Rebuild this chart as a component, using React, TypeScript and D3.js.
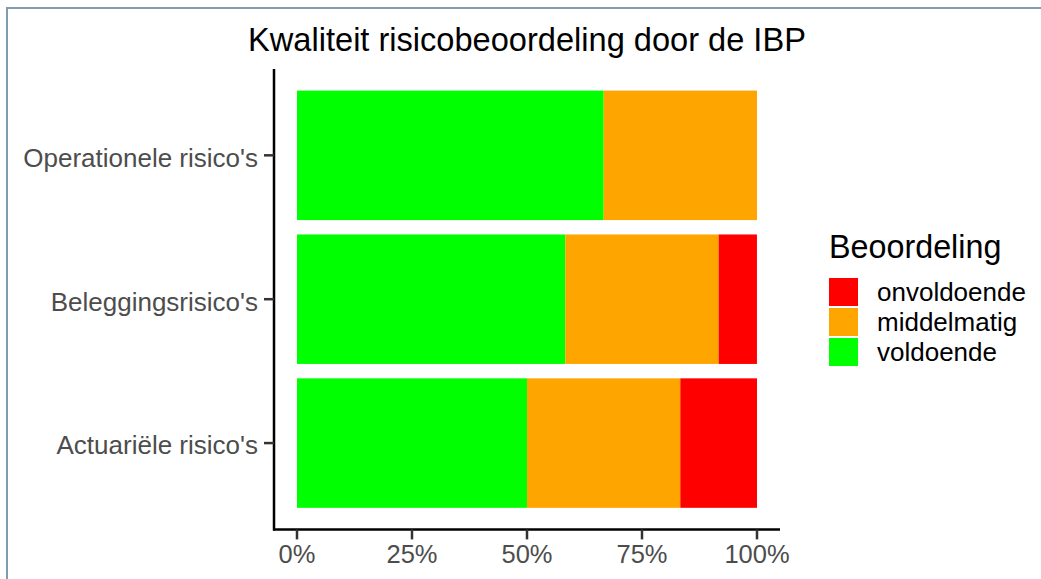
import React from "react";
import * as d3 from "d3";

const categories = ["Operationele risico's", "Beleggingsrisico's", "Actuariële risico's"];
const levels = ["voldoende", "middelmatig", "onvoldoende"];
const legendOrder = ["onvoldoende", "middelmatig", "voldoende"];
const voldoende = [66.67, 58.33, 50.0];
const middelmatig = [33.33, 33.33, 33.33];
const onvoldoende = [0, 8.33, 16.67];
const xTicks = [0, 25, 50, 75, 100];
const colors: Record<string, string> = { onvoldoende: "#FF0000", middelmatig: "#FFA500", voldoende: "#00FF00" };
const title = "Kwaliteit risicobeoordeling door de IBP";
const legendTitle = "Beoordeling";

export default function App() {
  const W = 1041, H = 579;
  const panel = { left: 274, right: 780, top: 69, bottom: 529.4 };
  const x = d3.scaleLinear().domain([-5, 105]).range([panel.left, panel.right]);
  const y = d3.scaleBand<string>().domain(categories).range([panel.top, panel.bottom]).paddingInner(0.1).paddingOuter(0.15);
  const rows = categories.map((c, i) => ({ cat: c, voldoende: voldoende[i], middelmatig: middelmatig[i], onvoldoende: onvoldoende[i] }));
  const series = d3.stack<any>().keys(levels)(rows);
  const font = "'Liberation Sans', Arial, sans-serif";
  const lg = { x: 829, titleY: 258, keyY: 278, keyW: 29, keyH: 28, step: 30, textX: 877 };
  return (
    <svg width={W} height={H} style={{ position: "absolute", left: 0, top: 0, background: "#fff" }} fontFamily={font}>
      <rect x={7} y={8} width={1200} height={800} fill="#fff" stroke="#7f9db0" strokeWidth={2} />
      <text x={(panel.left + panel.right) / 2} y={51} textAnchor="middle" fontSize={32.6} fill="#000">{title}</text>
      {series.map((s) => (
        <g key={s.key} fill={colors[s.key]}>
          {s.map((d, i) => (
            <rect key={i} x={x(d[0])} width={Math.max(0, x(d[1]) - x(d[0]))} y={y(categories[i])!} height={y.bandwidth()} />
          ))}
        </g>
      ))}
      <line x1={panel.left} x2={panel.left} y1={panel.top} y2={panel.bottom + 1} stroke="#000" strokeWidth={2.5} />
      <line x1={panel.left - 1} x2={panel.right} y1={panel.bottom} y2={panel.bottom} stroke="#000" strokeWidth={2.5} />
      {categories.map((c) => {
        const cy = y(c)! + y.bandwidth() / 2;
        return (
          <g key={c}>
            <line x1={panel.left - 10} x2={panel.left} y1={cy} y2={cy} stroke="#333" strokeWidth={2.5} />
            <text x={panel.left - 16} y={cy + 2} dy="0.36em" textAnchor="end" fontSize={26} fill="#4d4d4d">{c}</text>
          </g>
        );
      })}
      {xTicks.map((t) => (
        <g key={t}>
          <line x1={x(t)} x2={x(t)} y1={panel.bottom} y2={panel.bottom + 10} stroke="#333" strokeWidth={2.5} />
          <text x={x(t)} y={563} textAnchor="middle" fontSize={25.5} fill="#4d4d4d">{t}%</text>
        </g>
      ))}
      <text x={lg.x} y={lg.titleY} fontSize={32.3} fill="#000">{legendTitle}</text>
      {legendOrder.map((k, i) => (
        <g key={k}>
          <rect x={lg.x} y={lg.keyY + i * lg.step} width={lg.keyW} height={lg.keyH} fill={colors[k]} />
          <text x={lg.textX} y={lg.keyY + i * lg.step + lg.keyH / 2} dy="0.36em" fontSize={26} fill="#000">{k}</text>
        </g>
      ))}
    </svg>
  );
}
